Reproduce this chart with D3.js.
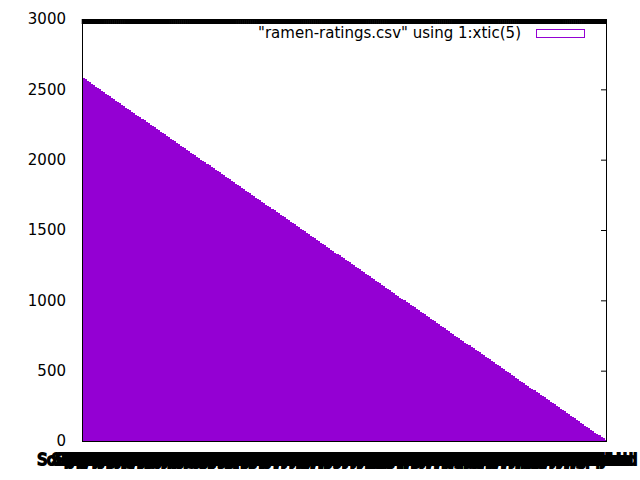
<!DOCTYPE html>
<html>
<head>
<meta charset="utf-8">
<script src="https://cdn.jsdelivr.net/npm/d3@7"></script>
<style>
  html, body { margin: 0; padding: 0; background: #fff; }
  svg { display: block; }
  text { font-family: "DejaVu Sans", sans-serif; font-size: 15px; fill: #000; }
</style>
</head>
<body>
<svg id="chart" width="640" height="480"></svg>
<script>
const reviews = [
  2580,2570,2560,2550,2540,2530,2520,2510,2500,2490,
  2480,2470,2460,2450,2440,2430,2420,2410,2400,2390,
  2380,2370,2360,2350,2340,2330,2320,2310,2300,2290,
  2280,2270,2260,2250,2240,2230,2220,2210,2200,2190,
  2180,2170,2160,2150,2140,2130,2120,2110,2100,2090,
  2080,2070,2060,2050,2040,2030,2020,2010,2000,1990,
  1980,1970,1960,1950,1940,1930,1920,1910,1900,1890,
  1880,1870,1860,1850,1840,1830,1820,1810,1800,1790,
  1780,1770,1760,1750,1740,1730,1720,1710,1700,1690,
  1680,1670,1660,1650,1640,1630,1620,1610,1600,1590,
  1580,1570,1560,1550,1540,1530,1520,1510,1500,1490,
  1480,1470,1460,1450,1440,1430,1420,1410,1400,1390,
  1380,1370,1360,1350,1340,1330,1320,1310,1300,1290,
  1280,1270,1260,1250,1240,1230,1220,1210,1200,1190,
  1180,1170,1160,1150,1140,1130,1120,1110,1100,1090,
  1080,1070,1060,1050,1040,1030,1020,1010,1000,990,
  980,970,960,950,940,930,920,910,900,890,
  880,870,860,850,840,830,820,810,800,790,
  780,770,760,750,740,730,720,710,700,690,
  680,670,660,650,640,630,620,610,600,590,
  580,570,560,550,540,530,520,510,500,490,
  480,470,460,450,440,430,420,410,400,390,
  380,370,360,350,340,330,320,310,300,290,
  280,270,260,250,240,230,220,210,200,190,
  180,170,160,150,140,130,120,110,100,90,
  80,70,60,50,40,30,20,10
];

// Country column used as xtic labels
const countries = [
  "South Korea","Taiwan","Japan","USA","Japan","Singapore","Thailand","South Korea","Japan","China",
  "Malaysia","Japan","USA","Taiwan","South Korea","Indonesia","Japan","Hong Kong","Vietnam","Japan",
  "USA","South Korea","Taiwan","Japan","Thailand","China","Malaysia","Japan","Singapore","USA",
  "Japan","South Korea","Indonesia","Taiwan","Japan","UK","Hong Kong","USA","Thailand","Japan",
  "China","South Korea","Japan","Malaysia","Taiwan","USA","Philippines","Japan","Vietnam","South Korea",
  "Japan","Canada","Taiwan","Japan","India","USA","South Korea","Thailand","Japan","Germany",
  "Malaysia","Japan","Hong Kong","USA","South Korea","China","Japan","Indonesia","Taiwan","Mexico",
  "Japan","USA","South Korea","Singapore","Japan","Thailand","Australia","Taiwan","Japan","Vietnam",
  "USA","Japan","South Korea","China","Netherlands","Japan","Malaysia","Taiwan","Nepal","USA",
  "Japan","South Korea","Hong Kong","Japan","Myanmar","Thailand","USA","Taiwan","Japan","Indonesia",
  "South Korea","Japan","China","Pakistan","USA","Japan","Malaysia","Hungary","Taiwan","Japan",
  "USA","South Korea","Thailand","Japan","Singapore","Bangladesh","Japan","Taiwan","China","USA",
  "Japan","South Korea","Vietnam","Japan","Colombia","Indonesia","USA","Japan","Hong Kong","Taiwan",
  "South Korea","Japan","Brazil","USA","Malaysia","Japan","Thailand","Taiwan","Cambodia","Japan",
  "China","USA","South Korea","Japan","Fiji","Philippines","Japan","Taiwan","UK","USA",
  "Japan","South Korea","Poland","Japan","Singapore","Thailand","USA","Holland","Japan","Taiwan",
  "Malaysia","South Korea","Japan","China","Sweden","USA","Japan","Hong Kong","Indonesia","Japan",
  "Taiwan","USA","South Korea","Japan","Ghana","Thailand","Vietnam","Japan","Canada","USA",
  "Japan","South Korea","China","Finland","Japan","Taiwan","Malaysia","USA","Dubai","Japan",
  "South Korea","Japan","Estonia","Thailand","USA","Japan","Singapore","Taiwan","Nigeria","Japan",
  "China","USA","South Korea","Japan","Sarawak","Hong Kong","Japan","Indonesia","USA","Taiwan",
  "Japan","South Korea","Thailand","Japan","Malaysia","UK","USA","Japan","China","Taiwan",
  "South Korea","Japan","USA","Vietnam","Japan","Thailand","Taiwan","Hong Kong","Japan","USA",
  "Japan","South Korea","Malaysia","Japan","United States","China","USA","Japan","Taiwan","Thailand",
  "South Korea","Japan","USA","Indonesia","Japan","Thailand","Taiwan","USA","Japan","Thailand",
  "USA","Japan","Thailand","Malaysia","USA","Thailand","Japan","Thailand"
];

const yTicks = [0, 500, 1000, 1500, 2000, 2500, 3000];
const legendLabel = '"ramen-ratings.csv" using 1:xtic(5)';

const pL = 82, pR = 606, pT = 19, pB = 441;
const barColor = "#9400d3";

const svg = d3.select("#chart");
svg.append("rect").attr("width", 640).attr("height", 480).attr("fill", "#fff");

const idx = reviews.map((d, i) => i);
const x = d3.scaleBand().domain(idx).range([pL, pR]).padding(0);
const y = d3.scaleLinear().domain([0, 3000]).range([pB, pT]);
const bw = x.bandwidth();

// y tick marks (inward, left and right), drawn under the bars
svg.append("g").attr("transform", `translate(${pL},0)`)
  .call(d3.axisLeft(y).tickValues(yTicks).tickSize(-5).tickFormat(""))
  .call(g => g.select(".domain").remove())
  .call(g => g.selectAll("line").attr("stroke", "#000"));
svg.append("g").attr("transform", `translate(${pR},0)`)
  .call(d3.axisRight(y).tickValues(yTicks).tickSize(-5).tickFormat(""))
  .call(g => g.select(".domain").remove())
  .call(g => g.selectAll("line").attr("stroke", "#000"));

// top mirrored x ticks (inward)
svg.append("g").attr("transform", `translate(0,${pT})`)
  .call(d3.axisTop(x).tickSize(-5).tickFormat(""))
  .call(g => g.select(".domain").remove())
  .call(g => g.selectAll("line").attr("stroke", "#000").attr("stroke-width", bw + 0.6));

// bars
svg.append("g").attr("shape-rendering", "crispEdges")
  .selectAll("rect").data(reviews).join("rect")
  .attr("x", (d, i) => x(i))
  .attr("width", bw + 0.6)
  .attr("y", d => y(d))
  .attr("height", d => y(0) - y(d))
  .attr("fill", barColor);

// border
svg.append("rect")
  .attr("x", pL + 0.5).attr("y", pT + 0.5)
  .attr("width", pR - pL).attr("height", pB - pT)
  .attr("fill", "none").attr("stroke", "#000").attr("stroke-width", 1);

// y labels
svg.append("g").attr("transform", `translate(${pL},0)`)
  .call(d3.axisLeft(y).tickValues(yTicks).tickSize(0).tickPadding(16).tickFormat(d3.format("d")))
  .call(g => g.select(".domain").remove())
  .call(g => g.selectAll("text").attr("font-family", "DejaVu Sans").attr("font-size", 15).attr("fill", "#000"));

// x labels (country names)
svg.append("g").attr("transform", `translate(0,464.5)`)
  .call(d3.axisBottom(x).tickSize(0).tickFormat(i => countries[i]))
  .call(g => g.select(".domain").remove())
  .call(g => g.selectAll("text").attr("y", 0).attr("dy", null)
    .attr("font-family", "DejaVu Sans").attr("font-size", 15).attr("fill", "#000")
    .attr("stroke", "#000").attr("stroke-width", 2));

// legend
svg.append("text")
  .attr("x", 521).attr("y", 33).attr("dy", "0.35em")
  .attr("text-anchor", "end")
  .text(legendLabel);
svg.append("rect")
  .attr("x", 536.5).attr("y", 29.5).attr("width", 48).attr("height", 8)
  .attr("fill", "none").attr("stroke", barColor).attr("stroke-width", 1);
</script>
</body>
</html>
